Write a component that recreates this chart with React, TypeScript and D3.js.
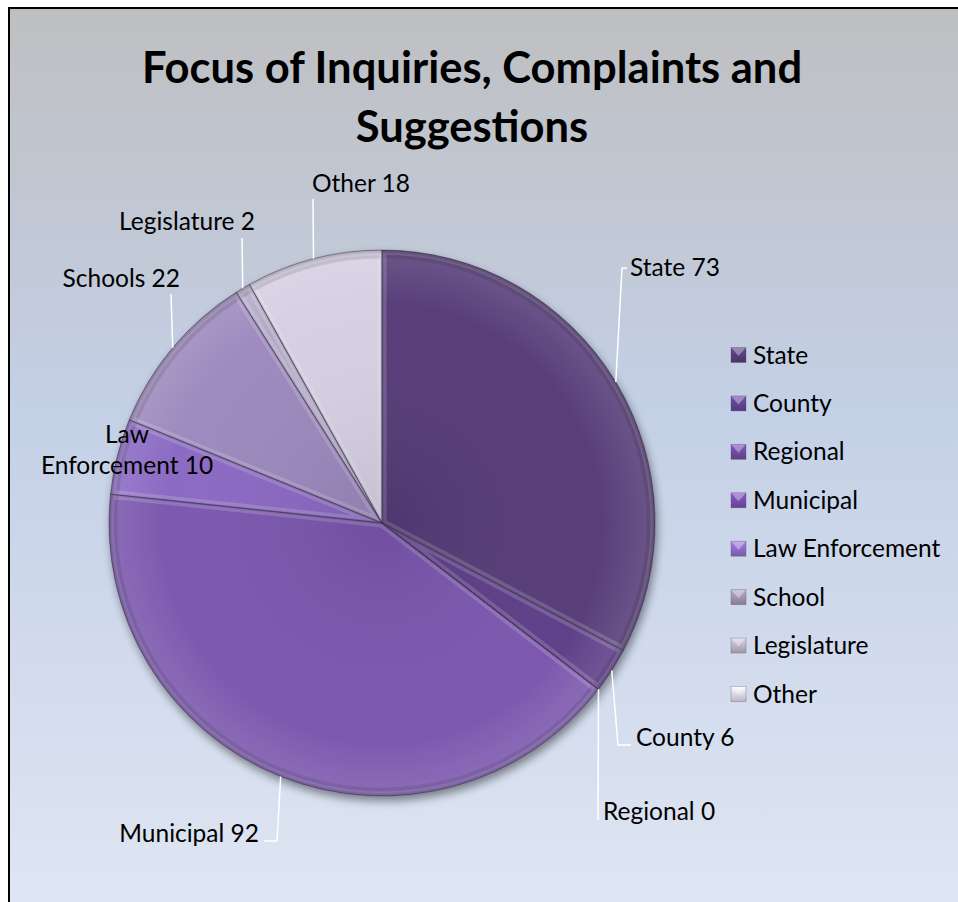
import React from "react";
import * as d3 from "d3";

// chart data
const categories = ["State", "County", "Regional", "Municipal", "Law Enforcement", "School", "Legislature", "Other"];
const labelNames = ["State", "County", "Regional", "Municipal", "Law Enforcement", "Schools", "Legislature", "Other"];
const values = [73, 6, 0, 92, 10, 22, 2, 18];
const titleLines = ["Focus of Inquiries, Complaints and", "Suggestions"];

const sliceColors = ["#543b77", "#5b3e87", "#6a479c", "#7a56ad", "#8a67c2", "#9c88bd", "#b2a8c6", "#d5cfe2"];
const legendColors = ["#4f3a70", "#5c3f8a", "#6a4699", "#7248a6", "#8565ba", "#958aa8", "#b0a8bc", "#d0cbda"];

// label placement: text pos + leader elbow/end (layout only)
const labelLayout: any = {
  State: { x: 630, y: 276, anchor: "start", elbow: [622, 268], end: [627, 268] },
  County: { x: 636, y: 746, anchor: "start", elbow: [618, 745], end: [631, 745] },
  Regional: { x: 603, y: 820, anchor: "start", elbow: null, end: [598, 820] },
  Municipal: { x: 259, y: 842, anchor: "end", elbow: [277, 841], end: [264, 841] },
  "Law Enforcement": { x: 127, y: 443, anchor: "middle", lines: ["Law", "Enforcement 10"], elbow: null, end: null },
  School: { x: 180, y: 287, anchor: "end", elbow: null, end: [171, 294] },
  Legislature: { x: 255, y: 230, anchor: "end", elbow: null, end: [242, 238] },
  Other: { x: 410, y: 192, anchor: "end", elbow: null, end: [313, 199] },
};

const W = 958;
const H = 902;
const cx = 382;
const cy = 523;
const R = 273;
const FONT = "Lato, 'Open Sans', sans-serif";

const App = () => {
  const pieGen = d3.pie<number>().sort(null).value((d) => d);
  const arcs = pieGen(values);
  const arcPath = d3.arc<any>().innerRadius(0).outerRadius(R);
  const innerPath = d3.arc<any>().innerRadius(0).outerRadius(R - 7);

  const legendY = d3.scalePoint<string>().domain(categories).range([355, 694]);

  return (
    <svg width={W} height={H} style={{ position: "absolute", left: 0, top: 0 }}>
      <defs>
        <linearGradient id="bg" x1="0" y1="0" x2="0" y2="1">
          <stop offset="0" stopColor="#bebfc1" />
          <stop offset="0.45" stopColor="#c4d0e6" />
          <stop offset="1" stopColor="#dfe6f3" />
        </linearGradient>
        <radialGradient id="shine" cx={cx} cy={cy} r={R} gradientUnits="userSpaceOnUse">
          <stop offset="0" stopColor="#000" stopOpacity="0.08" />
          <stop offset="0.8" stopColor="#fff" stopOpacity="0.02" />
          <stop offset="0.97" stopColor="#fff" stopOpacity="0.12" />
          <stop offset="1" stopColor="#000" stopOpacity="0.25" />
        </radialGradient>
        <filter id="shadow" x="-20%" y="-20%" width="140%" height="140%">
          <feGaussianBlur in="SourceAlpha" stdDeviation="5" />
          <feOffset dx="2" dy="5" result="b" />
          <feComponentTransfer>
            <feFuncA type="linear" slope="0.45" />
          </feComponentTransfer>
          <feMerge>
            <feMergeNode />
            <feMergeNode in="SourceGraphic" />
          </feMerge>
        </filter>
        {arcs.map((a, i) => (
          <clipPath id={`clip${i}`} key={i}>
            <path d={arcPath(a) || ""} transform={`translate(${cx},${cy})`} />
          </clipPath>
        ))}
        {legendColors.map((c, i) => (
          <linearGradient id={`lg${i}`} key={i} x1="0" y1="0" x2="0" y2="1">
            <stop offset="0" stopColor={d3.color(c)!.brighter(0.6).toString()} />
            <stop offset="1" stopColor={d3.color(c)!.darker(0.3).toString()} />
          </linearGradient>
        ))}
      </defs>

      <rect x={8} y={7} width={W} height={H} fill="url(#bg)" />
      <line x1={9} y1={7} x2={9} y2={H} stroke="#000" strokeWidth={2} />
      <line x1={8} y1={8} x2={W} y2={8} stroke="#000" strokeWidth={2} />

      {titleLines.map((t, i) => (
        <text key={i} x={472} y={83 + i * 59} textAnchor="middle" fontFamily={FONT} fontWeight={700} fontSize={43.5} fill="#000">
          {t}
        </text>
      ))}

      <g filter="url(#shadow)">
        <g transform={`translate(${cx},${cy})`}>
          {arcs.map((a, i) => (
            <path key={i} d={arcPath(a) || ""} fill={sliceColors[i]} />
          ))}
        </g>
      </g>
      {arcs.map((a, i) => (
        <g key={i} clipPath={`url(#clip${i})`}>
          <g transform={`translate(${cx},${cy})`}>
            <path d={arcPath(a) || ""} fill="none" stroke="#fff" strokeOpacity={0.16} strokeWidth={9} />
            <path d={innerPath(a) || ""} fill="none" stroke="#000" strokeOpacity={0.1} strokeWidth={3} />
          </g>
        </g>
      ))}
      <circle cx={cx} cy={cy} r={R} fill="url(#shine)" />
      <g transform={`translate(${cx},${cy})`}>
        {arcs.map((a, i) => (
          <path key={i} d={arcPath(a) || ""} fill="none" stroke="#3a2d50" strokeOpacity={0.5} strokeWidth={1} />
        ))}
      </g>

      {arcs.map((a, i) => {
        const lay = labelLayout[categories[i]];
        const mid = (a.startAngle + a.endAngle) / 2;
        const ox = cx + R * Math.sin(mid);
        const oy = cy - R * Math.cos(mid);
        const pts: number[][] = [[ox, oy]];
        if (lay.elbow) pts.push(lay.elbow);
        if (lay.end) pts.push(lay.end);
        const line = d3.line();
        return (
          <g key={i}>
            {lay.end && <path d={line(pts as any) || ""} fill="none" stroke="#ffffff" strokeWidth={1.5} />}
            <text x={lay.x} y={lay.y} textAnchor={lay.anchor} fontFamily={FONT} fontSize={24.5} fill="#000">
              {lay.lines
                ? lay.lines.map((l: string, j: number) => (
                    <tspan key={j} x={lay.x} dy={j === 0 ? 0 : 31}>
                      {l}
                    </tspan>
                  ))
                : `${labelNames[i]} ${values[i]}`}
            </text>
          </g>
        );
      })}

      {categories.map((c, i) => {
        const y = legendY(c)!;
        const s = 15;
        const x = 731;
        return (
          <g key={c}>
            <rect x={x} y={y - s / 2} width={s} height={s} fill={`url(#lg${i})`} />
            <polygon
              points={`${x},${y - s / 2} ${x + s},${y - s / 2} ${x + s / 2},${y + 1}`}
              fill="#fff"
              fillOpacity={0.35}
            />
            <rect x={x} y={y - s / 2} width={s} height={s} fill="none" stroke="#555" strokeOpacity={0.4} strokeWidth={0.8} />
            <text x={753} y={y + 8.5} fontFamily={FONT} fontSize={24.5} fill="#000">
              {c}
            </text>
          </g>
        );
      })}
    </svg>
  );
};

export default App;
